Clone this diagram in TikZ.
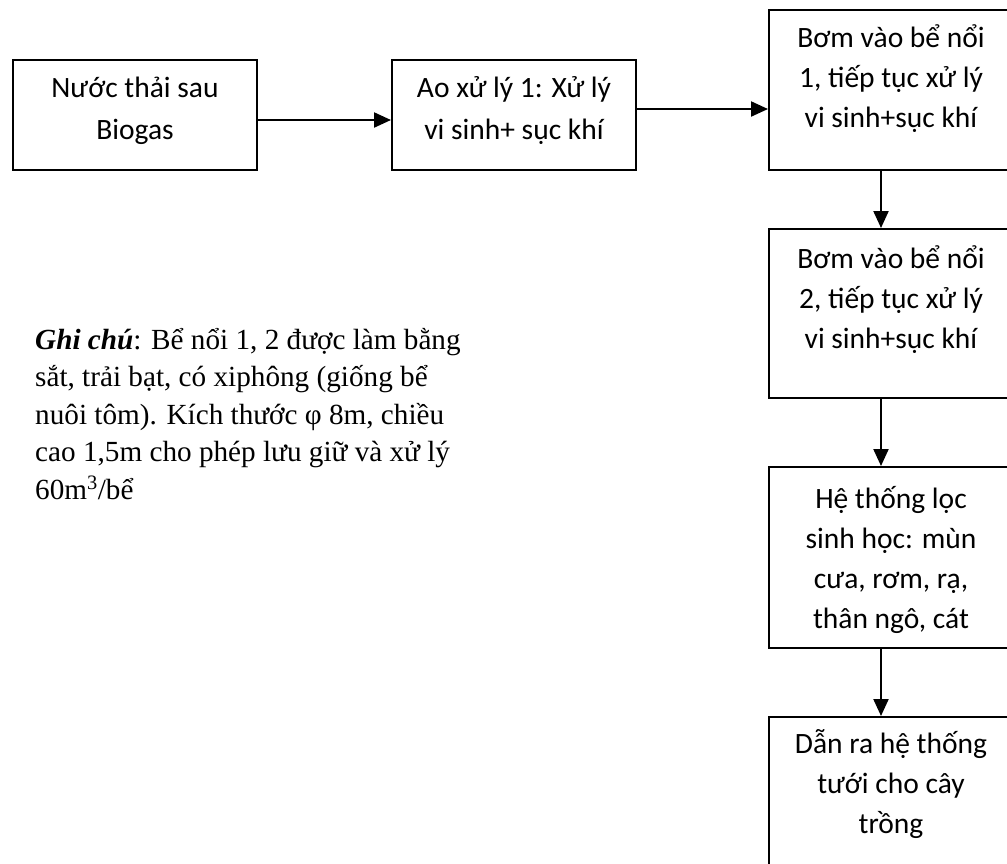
\documentclass[tikz,border=0pt]{standalone}
\usepackage{fontspec}
\setmainfont{Liberation Serif}
\newfontfamily\calibri{Carlito}
\usetikzlibrary{arrows.meta}
\begin{document}
\begin{tikzpicture}[x=1pt,y=-1pt,
  box/.style={draw, line width=2pt, minimum width=244pt, anchor=north west, inner sep=0pt},
  boxtext/.style={font=\calibri\fontsize{29.5}{40}\selectfont, align=center, anchor=base, inner sep=0pt},
  widetext/.style={boxtext, font=\calibri\fontsize{29.5}{42}\selectfont},
  arr/.style={line width=2.2pt, -{Triangle[length=17pt,width=15pt]}},
  note/.style={font=\fontsize{29.2}{37.5}\selectfont, align=left, anchor=base west, inner sep=0pt}]
\useasboundingbox (0,0) rectangle (1007,863);
\node[box, minimum height=110pt] (b1) at (12,59) {};
\node[box, minimum height=110pt] (b2) at (391,59) {};
\node[box, minimum height=160pt] (b3) at (768,9) {};
\node[box, minimum height=169pt] (b4) at (768,228) {};
\node[box, minimum height=181pt] (b5) at (768,466) {};
\node[box, minimum height=190pt] (b6) at (768,716) {};
\node[widetext] (t1) at ([yshift=-80pt]b1.north) {Nước thải sau\\Biogas};
\node[widetext] (t2) at ([yshift=-80pt]b2.north) {Ao xử lý 1: Xử lý\\vi sinh+ sục khí};
\node[boxtext] (t3) at ([yshift=-118pt]b3.north) {Bơm vào bể nổi\\1, tiếp tục xử lý\\vi sinh+sục khí};
\node[boxtext] (t4) at ([yshift=-120pt]b4.north) {Bơm vào bể nổi\\2, tiếp tục xử lý\\vi sinh+sục khí};
\node[boxtext] (t5) at ([yshift=-162pt]b5.north) {Hệ thống lọc\\sinh học: mùn\\cưa, rơm, rạ,\\thân ngô, cát};
\node[boxtext] (t6) at ([yshift=-117pt]b6.north) {Dẫn ra hệ thống\\tưới cho cây\\trồng};
\node[note] (n) at (35,499) {\textbf{\textit{Ghi chú}}: Bể nổi 1, 2 được làm bằng\\sắt, trải bạt, có xiphông (giống bể\\nuôi tôm). Kích thước φ 8m, chiều\\cao 1,5m cho phép lưu giữ và xử lý\\60m\textsuperscript{3}/bể};
\draw[arr] ([yshift=-5pt]b1.east) -- ([yshift=-5pt]b1.east -| b2.west);
\draw[arr] ([yshift=6pt]b2.east) -- ([yshift=6pt]b2.east -| b3.west);
\draw[arr] ([xshift=-10pt]b3.south) -- ([xshift=-10pt]b4.north);
\draw[arr] ([xshift=-10pt]b4.south) -- ([xshift=-10pt]b5.north);
\draw[arr] ([xshift=-10pt]b5.south) -- ([xshift=-10pt]b6.north);
\end{tikzpicture}
\end{document}
